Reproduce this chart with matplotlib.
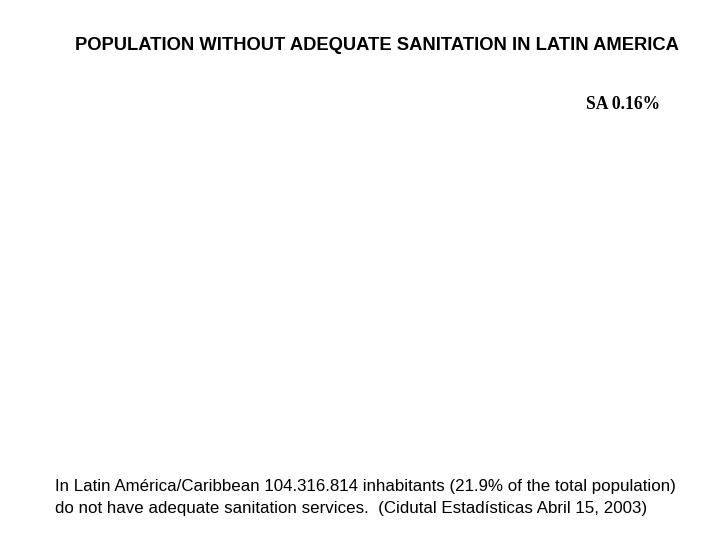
import matplotlib
matplotlib.use('Agg')
import matplotlib.pyplot as plt

# chart content (the pie slices in the source are blank/white, only the label shows)
title = "POPULATION WITHOUT ADEQUATE SANITATION IN LATIN AMERICA"
slice_labels = ["SA"]
slice_pcts = [0.16]
note_lines = [
    "In Latin América/Caribbean 104.316.814 inhabitants (21.9% of the total population)",
    "do not have adequate sanitation services.  (Cidutal Estadísticas Abril 15, 2003)",
]

fig = plt.figure(figsize=(7.2, 5.4), dpi=100)
fig.patch.set_facecolor('white')

fig.text(376.5 / 720, 1 - 45.5 / 540, title, ha='center', va='center',
         fontsize=13.2, fontweight='bold', family='Liberation Sans')

for lab, pct in zip(slice_labels, slice_pcts):
    fig.text(586 / 720, 1 - 104 / 540, f"{lab} {pct:.2f}%", ha='left', va='center',
             fontsize=12.7, fontweight='bold', family='Liberation Serif')

for i, line in enumerate(note_lines):
    fig.text(55 / 720, 1 - (487 + i * 21.5) / 540, line, ha='left', va='center',
             fontsize=12.2, family='Liberation Sans')

plt.savefig("out.png", dpi=100, facecolor='white')
plt.close()
